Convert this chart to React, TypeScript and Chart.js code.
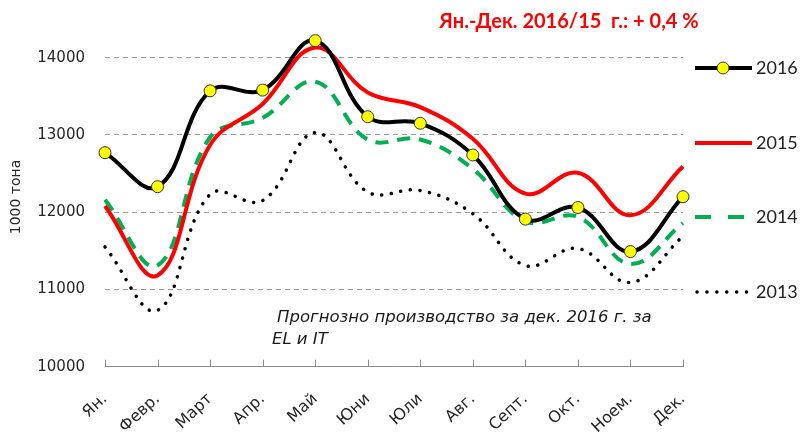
import React, { useEffect, useRef } from 'react';
import { Chart, registerables } from 'chart.js';

Chart.register(...registerables);

const months = ['Ян.', 'Февр.', 'Март', 'Апр.', 'Май', 'Юни', 'Юли', 'Авг.', 'Септ.', 'Окт.', 'Ноем.', 'Дек.'];
const s2016 = [12770, 12330, 13570, 13580, 14220, 13235, 13150, 12740, 11910, 12060, 11490, 12200];
const s2015 = [12080, 11180, 12870, 13400, 14130, 13550, 13360, 12950, 12240, 12510, 11960, 12590];
const s2014 = [12160, 11310, 12970, 13220, 13690, 12940, 12940, 12560, 11880, 11940, 11330, 11860];
const s2013 = [11550, 10730, 12230, 12150, 13030, 12260, 12280, 11980, 11310, 11530, 11090, 11690];
const yTicks = [10000, 11000, 12000, 13000, 14000];
const seriesNames = ['2016', '2015', '2014', '2013'];
const titleText = 'Ян.-Дек. 2016/15  г.: + 0,4 %';
const noteLines = ['Прогнозно производство за дек. 2016 г. за', 'EL и IT'];
const yTitle = '1000 тона';

export default function App() {
  const ref = useRef<HTMLCanvasElement>(null);

  useEffect(() => {
    const overlay = {
      id: 'overlay',
      afterDraw(chart: any) {
        const ctx = chart.ctx as CanvasRenderingContext2D;
        const xs = chart.scales.x;
        const area = chart.chartArea;
        ctx.save();
        // inward tick marks on category axis
        ctx.strokeStyle = '#8c8c8c';
        ctx.lineWidth = 1;
        for (let i = 0; i < months.length; i++) {
          const x = Math.round(xs.getPixelForValue(i)) + 0.5;
          ctx.beginPath();
          ctx.moveTo(x, area.bottom);
          ctx.lineTo(x, area.bottom - 7);
          ctx.stroke();
        }
        // title
        ctx.fillStyle = '#ff0000';
        ctx.font = 'bold 20px Lato';
        ctx.textAlign = 'center';
        ctx.textBaseline = 'middle';
        ctx.fillText(titleText, 569, 22);
        // note
        ctx.fillStyle = '#1a1a1a';
        ctx.font = 'italic 16.5px "DejaVu Sans"';
        ctx.textAlign = 'left';
        ctx.fillText(noteLines[0], 277, 318);
        ctx.fillText(noteLines[1], 272, 340);
        // y title
        ctx.save();
        ctx.translate(16, 197);
        ctx.rotate(-Math.PI / 2);
        ctx.fillStyle = '#262626';
        ctx.font = '14px "DejaVu Sans"';
        ctx.textAlign = 'center';
        ctx.fillText(yTitle, 0, 0);
        ctx.restore();
        // legend
        const ly = [68, 143, 217, 292];
        const x0 = 695, x1 = 752;
        ctx.lineWidth = 4;
        // 2016
        ctx.strokeStyle = '#000';
        ctx.setLineDash([]);
        ctx.beginPath(); ctx.moveTo(x0, ly[0]); ctx.lineTo(x1, ly[0]); ctx.stroke();
        ctx.lineWidth = 1;
        ctx.fillStyle = '#ffff00';
        ctx.strokeStyle = '#333';
        ctx.beginPath(); ctx.arc(723, ly[0], 6, 0, Math.PI * 2); ctx.fill(); ctx.stroke();
        // 2015
        ctx.lineWidth = 4;
        ctx.strokeStyle = '#ff0000';
        ctx.beginPath(); ctx.moveTo(x0, ly[1]); ctx.lineTo(x1, ly[1]); ctx.stroke();
        // 2014
        ctx.strokeStyle = '#00b050';
        ctx.setLineDash([16, 17]);
        ctx.beginPath(); ctx.moveTo(x0, ly[2]); ctx.lineTo(x1, ly[2]); ctx.stroke();
        // 2013
        ctx.strokeStyle = '#000';
        ctx.lineCap = 'round';
        ctx.lineWidth = 3.5;
        ctx.setLineDash([0.1, 9.8]);
        ctx.beginPath(); ctx.moveTo(x0 + 2, ly[3]); ctx.lineTo(x1, ly[3]); ctx.stroke();
        ctx.setLineDash([]);
        ctx.lineCap = 'butt';
        ctx.fillStyle = '#222';
        ctx.font = '18px Lato';
        ctx.textAlign = 'left';
        ctx.textBaseline = 'middle';
        for (let i = 0; i < 4; i++) ctx.fillText(seriesNames[i], 756, ly[i]);
        ctx.restore();
      },
    };

    const chart = new Chart(ref.current as HTMLCanvasElement, {
      type: 'line',
      data: {
        labels: months,
        datasets: [
          {
            label: seriesNames[0], data: s2016, borderColor: '#000000', borderWidth: 4,
            pointRadius: 6, pointBackgroundColor: '#ffff00', pointBorderColor: '#333333', pointBorderWidth: 1,
            tension: 0.4, clip: false as any,
          },
          {
            label: seriesNames[1], data: s2015, borderColor: '#ff0000', borderWidth: 4,
            pointRadius: 0, tension: 0.4, clip: false as any,
          },
          {
            label: seriesNames[2], data: s2014, borderColor: '#00b050', borderWidth: 4, borderDash: [13, 9],
            pointRadius: 0, tension: 0.4, clip: false as any,
          },
          {
            label: seriesNames[3], data: s2013, borderColor: '#000000', borderWidth: 3.5, borderDash: [0.1, 9.6],
            borderCapStyle: 'round', pointRadius: 0, tension: 0.4, clip: false as any,
          },
        ],
      },
      options: {
        responsive: false,
        animation: false,
        layout: { padding: { left: 0, right: 117, top: 19, bottom: 0 } },
        plugins: { legend: { display: false }, tooltip: { enabled: false } },
        scales: {
          x: {
            offset: false,
            grid: { display: false, drawTicks: false },
            border: { display: true, color: '#8c8c8c', width: 1 },
            ticks: {
              autoSkip: false, maxRotation: 43, minRotation: 43, padding: 23,
              color: '#262626', font: { family: 'DejaVu Sans', size: 16 },
            },
            afterFit: (s: any) => { s.height = 432 - 366.7; s.paddingLeft = 0; s.paddingRight = 0; },
          },
          y: {
            min: 10000,
            max: 14500,
            afterBuildTicks: (ax: any) => { ax.ticks = yTicks.map((v) => ({ value: v })); },
            grid: {
              color: (c: any) => (c.tick && c.tick.value === 10000 ? 'rgba(0,0,0,0)' : '#9a9a9a'),
              lineWidth: 1, drawTicks: false,
            },
            border: { display: false, dash: [5, 4] },
            ticks: {
              padding: 20, color: '#262626', font: { family: 'DejaVu Sans', size: 15 },
              callback: (v: any) => String(v),
            },
            afterFit: (s: any) => { s.width = 105; s.paddingTop = 0; s.paddingBottom = 0; },
          },
        },
      },
      plugins: [overlay],
    } as any);
    return () => chart.destroy();
  }, []);

  return (
    <div style={{ position: 'absolute', left: 0, top: 0, width: 800, height: 432, background: '#fff' }}>
      <canvas ref={ref} width={800} height={432} />
    </div>
  );
}
